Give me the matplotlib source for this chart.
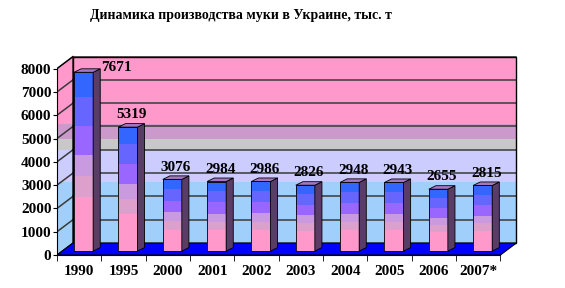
import numpy as np
import matplotlib.pyplot as plt
from matplotlib.patches import Polygon, Rectangle

# data
years = ['1990', '1995', '2000', '2001', '2002', '2003', '2004', '2005', '2006', '2007*']
values = [7671, 5319, 3076, 2984, 2986, 2826, 2948, 2943, 2655, 2815]
yticks = [0, 1000, 2000, 3000, 4000, 5000, 6000, 7000, 8000]
title = 'Динамика производства муки в Украине, тыс. т'

font = ['Liberation Serif', 'DejaVu Serif']

fig = plt.figure(figsize=(5.65, 2.88), dpi=100)
ax = fig.add_axes([57/565, 26/288, 478/565, 212/288])
ax.set_xlim(-0.5, 10.28)
ax.set_ylim(-300, 8798)

# 3d-ish geometry (data units)
dx, dy = 0.36, 515          # wall depth
bx, by = 0.10, 170          # bar plane offset
bw = 0.43                   # bar width
ddx, ddy = 0.16, 150        # bar depth
x0w, x1w = -0.5, len(years) - 0.5
top = 8000

# walls with colour bands, clipped to left + back wall
wall = Polygon([(x0w, 0), (x0w, top), (x0w + dx, top + dy), (x1w + dx, top + dy),
                (x1w + dx, dy), (x0w + dx, dy)], closed=True, fc='none', ec='none')
ax.add_patch(wall)
bands = [(-1000, 2600 + dy, '#9FCFFA'), (2600 + dy, 4000 + dy, '#CCCCFF'),
         (4000 + dy, 4450 + dy, '#C8C8C8'), (4450 + dy, 5100 + dy, '#CC99CC'),
         (5100 + dy, 9500, '#FF99CC')]
for lo, hi, c in bands:
    r = Rectangle((x0w, lo), x1w + dx - x0w, hi - lo, fc=c, ec='none', zorder=1)
    ax.add_patch(r)
    r.set_clip_path(wall)

for v in yticks[1:]:
    ax.plot([x0w + dx, x1w + dx], [v + dy, v + dy], color='#3a3a3a', lw=1.1, zorder=2)
    ax.plot([x0w, x0w + dx], [v, v + dy], color='#3a3a3a', lw=1.1, zorder=2)
ax.add_patch(Rectangle((x0w + dx, dy), x1w - x0w, top, fc='none', ec='black', lw=1, zorder=2))
ax.add_patch(Polygon([(x0w, 0), (x0w, top), (x0w + dx, top + dy), (x0w + dx, dy)],
                     closed=True, fc='none', ec='black', lw=0.8, zorder=2))

# floor
ax.add_patch(Polygon([(x0w, 0), (x1w, 0), (x1w + dx, dy), (x0w + dx, dy)], closed=True,
                     fc='#0000FF', ec='black', lw=0.8, zorder=3))

# bars
grad = [(0.00, 0.30, '#FF99CC'), (0.30, 0.42, '#DDA0CC'), (0.42, 0.54, '#C99AE0'),
        (0.54, 0.70, '#9966FF'), (0.70, 0.86, '#6666FF'), (0.86, 1.00, '#3366FF')]
for i, v in enumerate(values):
    xl = i - bw / 2 + bx
    xr = xl + bw
    for f0, f1, c in grad:
        ax.add_patch(Rectangle((xl, by + f0 * v), bw, (f1 - f0) * v, fc=c, ec='none', zorder=4))
    ax.add_patch(Rectangle((xl, by), bw, v, fc='none', ec='black', lw=0.6, zorder=5))
    ax.add_patch(Polygon([(xr, by), (xr + ddx, by + ddy), (xr + ddx, by + v + ddy), (xr, by + v)],
                         closed=True, fc='#5A3D66', ec='black', lw=0.6, zorder=5))
    ax.add_patch(Polygon([(xl, by + v), (xr, by + v), (xr + ddx, by + v + ddy), (xl + ddx, by + v + ddy)],
                         closed=True, fc='#A577C0', ec='black', lw=0.6, zorder=5))
    if i == 0:
        ax.text(xr + ddx + 0.02, by + v + 220, str(v), ha='left', va='center', fontsize=11,
                fontweight='bold', family=font, zorder=6)
    else:
        ax.text(i + bx + ddx / 2, by + v + 250, str(v), ha='center', va='bottom', fontsize=11,
                fontweight='bold', family=font, zorder=6)

# axes
for s in ['top', 'right']:
    ax.spines[s].set_visible(False)
ax.spines['left'].set_bounds(0, top)
ax.spines['bottom'].set_position(('data', 0))
ax.spines['bottom'].set_bounds(x0w, x1w)
ax.spines['left'].set_zorder(7)
ax.spines['bottom'].set_zorder(7)
ax.set_yticks(yticks)
ax.set_yticklabels([str(t) for t in yticks], fontsize=11, fontweight='bold', family=font)
ax.tick_params(axis='y', length=3, pad=1)
ax.set_xticks(range(len(years)))
ax.set_xticklabels(years, fontsize=11, fontweight='bold', family=font)
ax.set_xticks(np.arange(x0w, x1w + 0.01, 1), minor=True)
ax.tick_params(axis='x', which='major', length=0, pad=7)
ax.tick_params(axis='x', which='minor', length=4)

fig.text(241/565, 1 - 15/288, title, ha='center', va='center', fontsize=10,
         fontweight='bold', family=font)

fig.savefig('out.png', dpi=100)
